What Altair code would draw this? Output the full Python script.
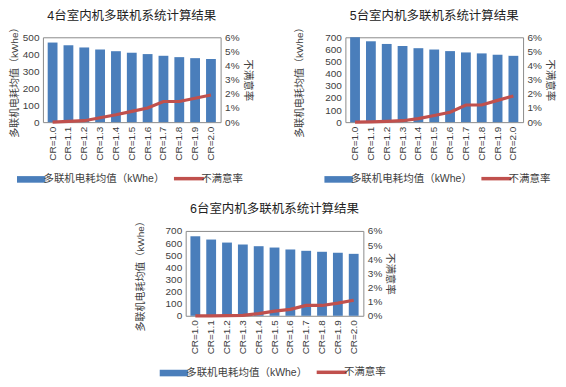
import altair as alt
import pandas as pd

cats = ["CR=1.0", "CR=1.1", "CR=1.2", "CR=1.3", "CR=1.4", "CR=1.5",
        "CR=1.6", "CR=1.7", "CR=1.8", "CR=1.9", "CR=2.0"]

titles = ["4台室内机多联机系统计算结果", "5台室内机多联机系统计算结果", "6台室内机多联机系统计算结果"]

energy4 = [469, 453, 440, 428, 418, 409, 401, 391, 383, 377, 372]
rate4 = [0.0000, 0.0005, 0.0010, 0.0031, 0.0052, 0.0076, 0.0100, 0.0146, 0.0146, 0.0169, 0.0192]

energy5 = [700, 667, 645, 628, 610, 599, 586, 575, 567, 556, 547]
rate5 = [0.0000, 0.0002, 0.0005, 0.0010, 0.0025, 0.0047, 0.0070, 0.0121, 0.0121, 0.0154, 0.0185]

energy6 = [656, 629, 604, 588, 574, 563, 547, 536, 528, 520, 511]
rate6 = [0.0000, 0.0000, 0.0001, 0.0003, 0.0015, 0.0033, 0.0045, 0.0073, 0.0073, 0.0089, 0.0110]

ymax = [500, 700, 700]

bar_label = "多联机电耗均值（kWhe）"
line_label = "不满意率"

BLUE = "#4A7EBB"
RED = "#C0504D"
FONT = "Liberation Sans, Noto Sans CJK SC"
TXT = "#404040"

PLOT_W = 178
PLOT_H = 85

is_line = "datum.value === '%s'" % line_label


def panel(title, energy, rate, top, ytitle_pad, legend_x):
    df = pd.DataFrame({"cr": cats, "energy": energy, "rate": rate,
                       "s1": bar_label, "s2": line_label})
    x = alt.X("cr:N", sort=cats, title=None,
              scale=alt.Scale(paddingInner=0.38, paddingOuter=0.3),
              axis=alt.Axis(labelAngle=270, ticks=False, domain=False,
                            labelFontSize=10, labelColor=TXT, labelPadding=4,
                            labelFont=FONT))
    color_scale = alt.Scale(domain=[bar_label, line_label], range=[BLUE, RED])
    legend = alt.Legend(
        title=None, orient="none", direction="horizontal",
        legendX=legend_x, legendY=PLOT_H + 51,
        symbolSize=900, labelFontSize=10.5, labelColor=TXT,
        labelFont=FONT, labelOffset=7, columnPadding=2,
        symbolType=alt.ExprRef(expr=is_line + " ? 'stroke' : 'M-0.95,-0.22L0.95,-0.22L0.95,0.22L-0.95,0.22Z'"),
        symbolStrokeWidth=alt.ExprRef(expr=is_line + " ? 3.5 : 0"),
        symbolStrokeColor=alt.ExprRef(expr=is_line + " ? '%s' : '%s'" % (RED, BLUE)),
        symbolFillColor=alt.ExprRef(expr=is_line + " ? '%s' : '%s'" % (RED, BLUE)),
        symbolOpacity=1,
    )
    bars = alt.Chart(df).mark_bar(color=BLUE).encode(
        x=x,
        y=alt.Y("energy:Q", title=bar_label,
                scale=alt.Scale(domain=[0, top], nice=False, clamp=True),
                axis=alt.Axis(values=list(range(0, top + 1, 100)), grid=False,
                              ticks=False, domain=False, labelFontSize=10,
                              labelColor=TXT, titleFontSize=10,
                              titleFontWeight="normal", titleColor=TXT,
                              labelPadding=4, titlePadding=ytitle_pad,
                              labelFont=FONT, titleFont=FONT)),
        color=alt.Color("s1:N", scale=color_scale, legend=legend),
    )
    line = alt.Chart(df).mark_line(strokeWidth=3.2).encode(
        x=x,
        y=alt.Y("rate:Q", title=line_label,
                scale=alt.Scale(domain=[0, 0.06], nice=False),
                axis=alt.Axis(orient="right", format=".0%",
                              values=[0, 0.01, 0.02, 0.03, 0.04, 0.05, 0.06],
                              grid=False, ticks=False, domain=False,
                              labelFontSize=10, labelColor=TXT,
                              titleFontSize=10.5, titleFontWeight="normal",
                              titleColor=TXT, labelPadding=4, titlePadding=3,
                              labelFont=FONT, titleFont=FONT)),
        color=alt.Color("s2:N", scale=color_scale, legend=legend),
    )
    return alt.layer(bars, line).resolve_scale(y="independent").properties(
        width=PLOT_W, height=PLOT_H,
        title=alt.TitleParams(title, fontSize=12.5, fontWeight="normal",
                              color="#222222", font=FONT, offset=0),
    )


c1 = panel(titles[0], energy4, rate4, ymax[0], 3, -17)
c2 = panel(titles[1], energy5, rate5, ymax[1], 20, -12)
c3 = panel(titles[2], energy6, rate6, ymax[2], 20, -17)

# invisible spacer that pushes the lower chart towards the middle
spacer = alt.Chart(pd.DataFrame({"v": [0]})).mark_point(opacity=0).encode(
    x=alt.value(0), y=alt.value(0)
).properties(width=91, height=10, view=alt.ViewBackground(stroke=None))

top_row = alt.hconcat(c1, c2, spacing=41).resolve_scale(color="independent")
bottom_row = alt.hconcat(spacer, c3, spacing=0).resolve_scale(color="independent")
chart = alt.vconcat(top_row, bottom_row, spacing=15).resolve_scale(
    color="independent"
).properties(
    padding={"left": 0, "top": 0, "right": 3, "bottom": 0},
    background="white",
).configure_view(stroke="#8C8C8C", strokeWidth=1)

chart.save("out.html", embed_options={"renderer": "svg", "actions": False})
